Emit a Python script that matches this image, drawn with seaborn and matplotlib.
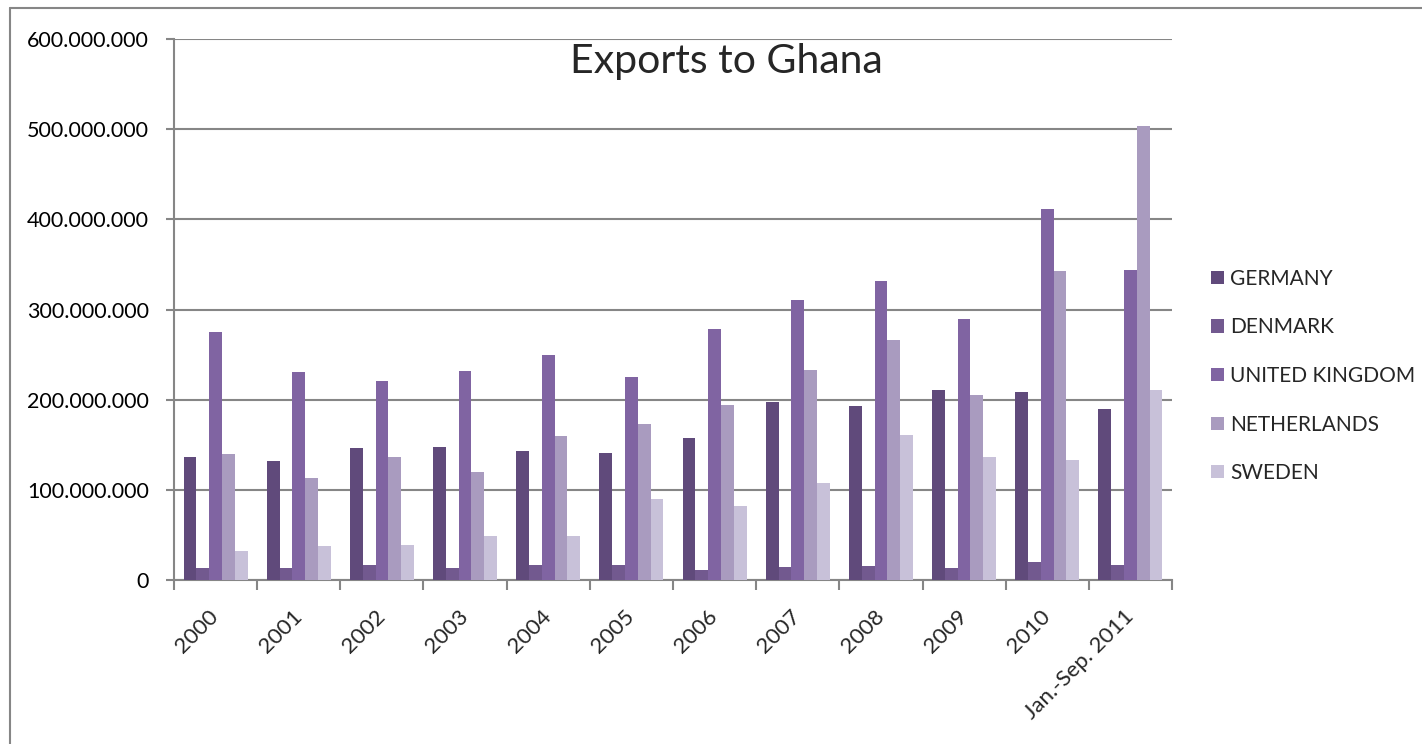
import matplotlib
matplotlib.use("Agg")
import matplotlib.pyplot as plt
import matplotlib.ticker as mticker
from matplotlib.lines import Line2D
import pandas as pd
import seaborn as sns

# values (in millions)
periods = ['2000', '2001', '2002', '2003', '2004', '2005', '2006', '2007',
           '2008', '2009', '2010', 'Jan.-Sep. 2011']
countries = ['GERMANY', 'DENMARK', 'UNITED KINGDOM', 'NETHERLANDS', 'SWEDEN']
germany = [136.7, 131.6, 146.0, 147.5, 142.7, 140.5, 157.0, 197.4, 192.6, 210.4, 208.5, 189.6]
denmark = [13.0, 13.7, 17.0, 13.0, 16.6, 17.0, 11.0, 14.0, 15.5, 13.3, 20.0, 17.0]
uk = [274.7, 230.7, 220.7, 231.8, 249.5, 224.8, 278.4, 310.5, 331.6, 289.8, 411.9, 344.0]
netherlands = [139.4, 112.8, 136.7, 119.8, 160.0, 172.6, 194.0, 233.2, 265.8, 205.2, 342.7, 503.0]
sweden = [31.8, 37.7, 38.8, 48.8, 48.8, 89.8, 82.0, 108.0, 160.8, 136.4, 132.7, 211.0]
colors = ['#604a7b', '#72598f', '#8064a2', '#a99bbf', '#c8c1d9']

series = [germany, denmark, uk, netherlands, sweden]
rows = []
for c, vals in zip(countries, series):
    for p, v in zip(periods, vals):
        rows.append({'period': p, 'country': c, 'value': v * 1e6})
df = pd.DataFrame(rows)

sns.set_style("white")
plt.rcParams['font.family'] = ['Lato', 'DejaVu Sans']

W, H = 1422, 744
fig = plt.figure(figsize=(W / 100, H / 100), dpi=100)
ax = fig.add_axes([174 / W, 1 - 580 / H, (1172 - 174) / W, (580 - 39) / H])

sns.barplot(data=df, x='period', y='value', hue='country', order=periods,
            hue_order=countries, palette=colors, width=0.77, saturation=1,
            linewidth=0, ax=ax, zorder=3)

grey = '#868686'
ax.set_ylim(0, 600e6)
ax.set_xlim(-0.5, len(periods) - 0.5)
ax.yaxis.set_major_locator(mticker.MultipleLocator(100e6))
ax.yaxis.set_major_formatter(mticker.FuncFormatter(
    lambda v, _: f"{int(round(v)):,}".replace(',', '.')))
ax.grid(axis='y', color=grey, linewidth=1.5, zorder=0)
ax.set_axisbelow(True)

for s in ['top', 'right']:
    ax.spines[s].set_visible(False)
for s in ['left', 'bottom']:
    ax.spines[s].set_color(grey)
    ax.spines[s].set_linewidth(1.5)

ax.tick_params(axis='y', length=6, width=1.5, color=grey, pad=12,
               labelsize=15.5, labelcolor='black', left=True)
ax.set_xticks(range(len(periods)))
ax.set_xticklabels(periods, rotation=45, ha='right', rotation_mode='anchor', va='center')
ax.set_xticks([i - 0.5 for i in range(len(periods) + 1)], minor=True)
ax.tick_params(axis='x', which='major', length=0, pad=24, labelsize=16)
ax.tick_params(axis='x', which='minor', length=7, width=1.5, color=grey, bottom=True)
ax.set_xlabel('')
ax.set_ylabel('')

fig.text(726 / W, 1 - 73 / H, 'Exports to Ghana', ha='center', va='baseline', fontsize=29.5)

handles, labels = ax.get_legend_handles_labels()
ax.legend(handles, labels, loc='center left', bbox_to_anchor=(1203 / W, 1 - 376 / H),
          bbox_transform=fig.transFigure, frameon=False, fontsize=15,
          handlelength=0.6, handleheight=0.6, handletextpad=0.3,
          labelspacing=1.37, borderaxespad=0)

# outer chart frame (top and left edges visible)
fig.add_artist(Line2D([10 / W, 1.0], [1 - 8 / H, 1 - 8 / H], color=grey, linewidth=1.5,
                      transform=fig.transFigure))
fig.add_artist(Line2D([10 / W, 10 / W], [1 - 8 / H, 0.0], color=grey, linewidth=1.5,
                      transform=fig.transFigure))

fig.savefig('out.png', dpi=100)
